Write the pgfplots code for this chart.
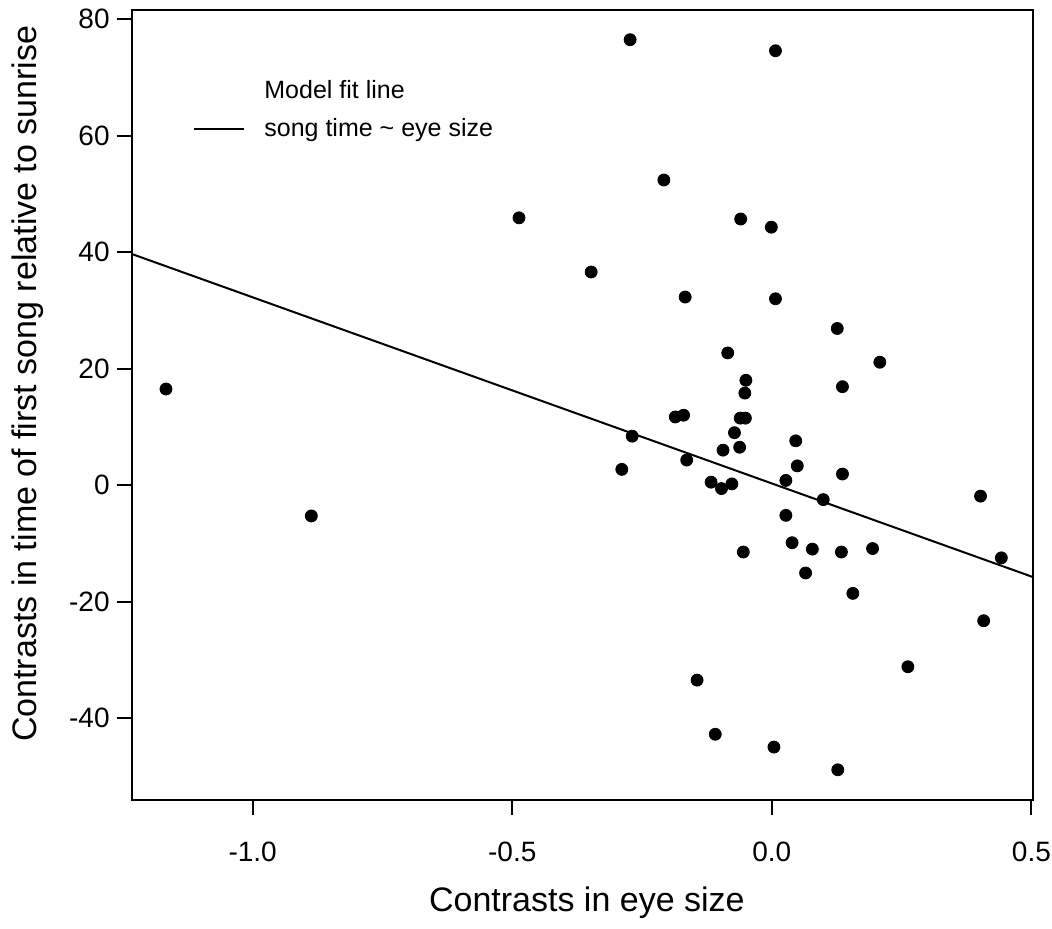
\documentclass[border=0pt]{standalone}
\usepackage{fontspec}
\setmainfont{Liberation Sans}
\usepackage{pgfplots}
\pgfplotsset{compat=1.18}

\pgfplotstableread{
x y
-1.167 16.5
-0.887 -5.3
-0.487 45.9
-0.348 36.6
-0.273 76.5
0.007 74.6
-0.208 52.4
-0.060 45.7
-0.001 44.3
-0.167 32.3
0.007 32.0
0.126 26.9
-0.085 22.7
0.208 21.1
-0.050 18.0
0.136 16.9
-0.052 15.8
-0.186 11.7
-0.170 12.0
-0.061 11.5
-0.051 11.5
-0.269 8.4
-0.072 9.0
0.046 7.6
-0.094 6.0
-0.062 6.5
-0.289 2.7
-0.164 4.3
0.049 3.3
0.136 1.9
0.027 0.8
-0.117 0.5
-0.097 -0.6
-0.077 0.2
0.099 -2.5
0.402 -1.9
0.027 -5.2
0.442 -12.5
-0.055 -11.5
0.039 -9.9
0.078 -11.0
0.134 -11.5
0.194 -10.9
0.065 -15.1
0.156 -18.6
0.408 -23.3
0.262 -31.2
-0.144 -33.5
-0.109 -42.8
0.004 -45.0
0.127 -48.9
}\contrasts

\begin{document}
\begin{tikzpicture}
\begin{axis}[
    scale only axis,
    width=450.6pt, height=395pt,
    xmin=-1.233, xmax=0.503,
    ymin=-54.1, ymax=81.6,
    axis line style={line width=1.1pt},
    xtick={-1,-0.5,0,0.5},
    xticklabels={-1.0,-0.5,0.0,0.5},
    ytick={-40,-20,0,20,40,60,80},
    yticklabels={-40,-20,0,20,40,60,80},
    tick style={line width=1pt, black},
    tick align=outside,
    major tick length=7.5pt,
    xtick pos=left, ytick pos=left,
    ticklabel style={font=\fontsize{14}{16}\selectfont},
    xticklabel style={yshift=-10pt},
    xlabel={Contrasts in eye size},
    ylabel={Contrasts in time of first song relative to sunrise},
    label style={font=\fontsize{17}{20}\selectfont},
    xlabel style={at={(axis description cs:0.505,-0.130)}, anchor=center},
    ylabel style={at={(axis description cs:-0.1155,0.527)}, anchor=center},
    legend style={at={(axis description cs:0.068,0.917)}, anchor=north west,
        draw=none, fill=none, inner sep=0pt, row sep=4.5pt,
        font=\fontsize{12.5}{15}\selectfont},
    legend cell align=left,
]
\coordinate (SW) at (rel axis cs:0,0);
\coordinate (NE) at (rel axis cs:1,1);

\addlegendimage{empty legend}
\addlegendentry{Model fit line}

% fitted regression line
\addplot[black, line width=1pt,
    legend image code/.code={\draw[black, line width=1pt] (0pt,0pt) -- (25pt,0pt);
        \path (32.5pt,0pt);}]
    coordinates {(-1.233,39.7) (0.503,-15.8)};
\addlegendentry{song time \textasciitilde{} eye size}

\addplot[only marks, mark=*, mark size=3pt, black, forget plot]
    table[x=x, y=y] {\contrasts};
\end{axis}
\pgfresetboundingbox
\path (SW) ++(-65.85pt,-64pt) rectangle ([xshift=9.5pt,yshift=5pt]NE);
\end{tikzpicture}
\end{document}
